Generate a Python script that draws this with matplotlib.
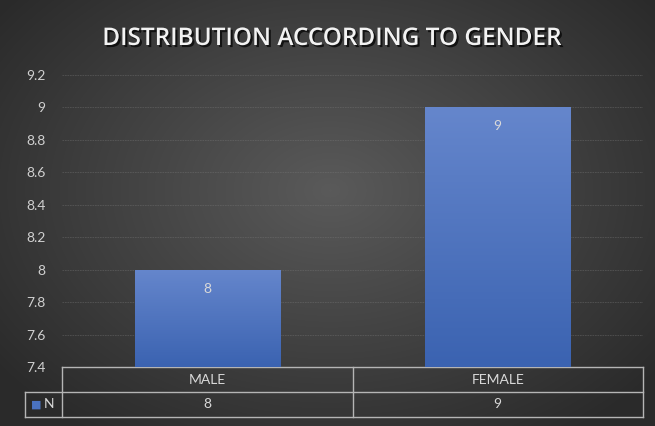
import numpy as np
import matplotlib.pyplot as plt
import matplotlib.patheffects as pe
from matplotlib.colors import LinearSegmentedColormap

categories = ["MALE", "FEMALE"]
values = [8, 9]
series_name = "N"
yticks = [7.4, 7.6, 7.8, 8, 8.2, 8.4, 8.6, 8.8, 9, 9.2]
title = "DISTRIBUTION ACCORDING TO GENDER"

plt.rcParams['font.family'] = ['Lato', 'DejaVu Sans']

fig = plt.figure(figsize=(6.55, 4.26), dpi=100)

# radial dark background
bg = fig.add_axes([0, 0, 1, 1], zorder=-10)
yy, xx = np.mgrid[0:426, 0:655]
r = np.sqrt(((xx - 330) / 420.0) ** 2 + ((yy - 190) / 300.0) ** 2)
r = np.clip(r, 0, 1)
bg_cmap = LinearSegmentedColormap.from_list("bg", ["#5a5a5a", "#2a2a2a"])
bg.imshow(r, cmap=bg_cmap, aspect='auto', extent=[0, 1, 0, 1], origin='upper')
bg.set_axis_off()

ax = fig.add_axes([62 / 655, 1 - 367 / 426, 581 / 655, 292 / 426])
ax.set_facecolor('none')
x = np.arange(len(categories))
bars = ax.bar(x, values, width=0.5, color='#4a72c0', zorder=2)

# vertical gradient on bars
grad = np.linspace(0, 1, 100).reshape(-1, 1)
bar_cmap = LinearSegmentedColormap.from_list("bar", ["#6586cc", "#3b63b1"])
for b in bars:
    x0, w = b.get_x(), b.get_width()
    im = ax.imshow(grad, cmap=bar_cmap, aspect='auto', zorder=3,
                   extent=[x0, x0 + w, yticks[0], b.get_height()], origin='upper')
    im.set_clip_path(b)
ax.set_xlim(-0.5, len(categories) - 0.5)
ax.set_ylim(yticks[0], yticks[-1])

for xi, v in zip(x, values):
    ax.text(xi, v - 0.08, str(v), ha='center', va='top', color='#d9d9d9',
            fontsize=10, zorder=4)

ax.set_yticks(yticks)
ax.set_yticklabels([f"{t:g}" for t in yticks], color='#d0d0d0', fontsize=10)
ax.tick_params(axis='y', length=0, pad=12)
ax.set_xticks([])
ax.yaxis.grid(True, color='#777777', linestyle=(0, (2, 1)), linewidth=0.6, alpha=0.45)
ax.set_axisbelow(True)
for s in ax.spines.values():
    s.set_visible(False)

# data table under the plot (x in data units, y in axes units)
tr = ax.get_xaxis_transform()
lo, hi = -0.5, len(categories) - 0.5
leg_x = lo - 37 / 581 * (hi - lo)
row_h = 25 / 292
kw = dict(color='#b5b5b5', lw=1.0, transform=tr, clip_on=False)
ax.plot([lo, hi], [0, 0], **kw)
ax.plot([leg_x, hi], [-row_h, -row_h], **kw)
ax.plot([leg_x, hi], [-2 * row_h, -2 * row_h], **kw)
ax.plot([leg_x, leg_x], [-row_h, -2 * row_h], **kw)
for xv in np.arange(len(categories) + 1) - 0.5:
    ax.plot([xv, xv], [0, -2 * row_h], **kw)
for xi, c, v in zip(x, categories, values):
    ax.text(xi, -0.5 * row_h, c, transform=tr, ha='center', va='center',
            color='#d9d9d9', fontsize=10)
    ax.text(xi, -1.5 * row_h, str(v), transform=tr, ha='center', va='center',
            color='#d9d9d9', fontsize=10)
ax.text(leg_x + 0.45 * (lo - leg_x), -1.5 * row_h, "\u25A0", transform=tr, color='#4a72c0',
        fontsize=8, ha='right', va='center', family='DejaVu Sans')
ax.text(leg_x + 0.5 * (lo - leg_x), -1.5 * row_h, series_name, transform=tr,
        color='#d9d9d9', fontsize=10, ha='left', va='center')

fig.text(0.505, 1 - 39 / 426, title, ha='center', va='center', color='#f2f2f2',
         fontsize=17.5, fontweight='semibold', family=['Open Sans', 'DejaVu Sans'],
         path_effects=[pe.withSimplePatchShadow(offset=(1.5, -1.5), shadow_rgbFace='black', alpha=0.7)])

fig.savefig("out.png", dpi=100)
